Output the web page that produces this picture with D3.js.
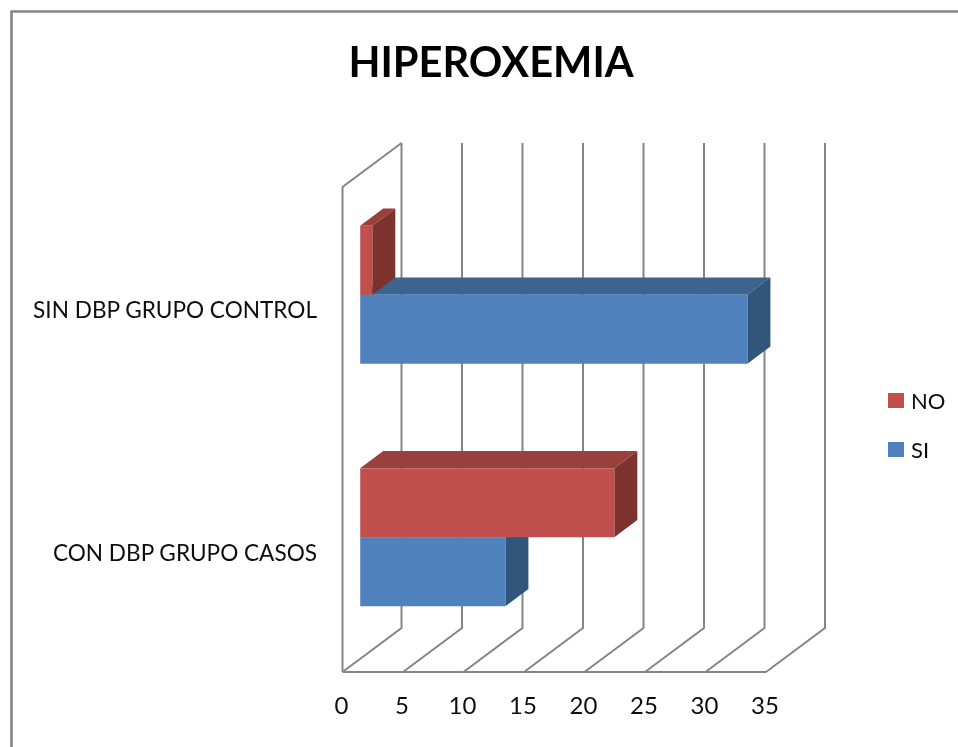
<!DOCTYPE html>
<html><head><meta charset="utf-8">
<script src="https://cdn.jsdelivr.net/npm/d3@7"></script>
<style>html,body{margin:0;padding:0;background:#fff;overflow:hidden}svg{display:block}text{font-family:Lato,"Open Sans",sans-serif;fill:#111}</style>
</head><body><div id="c"></div>
<script>
const title = "HIPEROXEMIA";
const categories = ["SIN DBP GRUPO CONTROL", "CON DBP GRUPO CASOS"];
const seriesNames = ["SI", "NO"];
const siValues = [32, 12];
const noValues = [1, 21];
const tickValues = [0, 5, 10, 15, 20, 25, 30, 35];
const legendOrder = ["NO", "SI"];

const W = 958, H = 747;
const svg = d3.select("#c").append("svg").attr("width", W).attr("height", H);
const blur = svg.append("defs").append("filter").attr("id","soft");
blur.append("feGaussianBlur").attr("stdDeviation",0.6);
const blurText = svg.select("defs").append("filter").attr("id","softText");
blurText.append("feGaussianBlur").attr("stdDeviation",0.35);

// frame
svg.append("path").attr("d",`M11.5,${H}V11.5H${W}`).attr("fill","none").attr("stroke","#858585").attr("stroke-width",2.6).attr("filter","url(#soft)");

const x = d3.scaleLinear().domain([0,35]).range([342.5,766]);
const y = d3.scaleBand().domain(categories).range([187,672]);
const sub = d3.scaleBand().domain(["NO","SI"]).range([0,138]);
const BACK = {dx:59, dy:-44};
const proj = (v, py, d) => [x(v)+BACK.dx*d, py+BACK.dy*d];
const line = d3.line();

const wall = svg.append("g").attr("fill","none").attr("stroke","#858585").attr("stroke-width",2).attr("filter","url(#soft)");
const yTop = y.range()[0], yBot = y.range()[1];
// floor front edge, left wall
wall.append("path").attr("d", line([proj(0,yBot,0),proj(35,yBot,0)]));
wall.append("path").attr("d", line([proj(0,yBot,0),proj(0,yTop,0),proj(0,yTop,1)]));
tickValues.forEach(t=>{
  wall.append("path").attr("d", line([proj(t,yBot,0),proj(t,yBot,1),proj(t,yTop,1)]));
});

const groupOffset = (y.bandwidth()-138)/2;
const d0 = 0.30, d1 = 0.69;
const colors = {
  SI:{front:"#4f81bd", top:"#3c638f", side:"#31547b"},
  NO:{front:"#c0504d", top:"#993f3c", side:"#7d312f"}
};
const values = {SI:siValues, NO:noValues};
const bars = svg.append("g").attr("filter","url(#soft)");
categories.forEach((cat,i)=>{
  seriesNames.forEach(s=>{
    const v = values[s][i], c = colors[s];
    const yT = y(cat)+groupOffset+sub(s)-0.4, yB = yT+sub.bandwidth();
    const a = proj(0,yT,d0), b = proj(v,yT,d0), e = proj(v,yB,d0), f = proj(0,yB,d0);
    const bT = proj(v,yT,d1), bB = proj(v,yB,d1), aT = proj(0,yT,d1);
    bars.append("path").attr("d",line([a,aT,bT,b])+"Z").attr("fill",c.top);
    bars.append("path").attr("d",line([b,bT,bB,e])+"Z").attr("fill",c.side);
    bars.append("path").attr("d",line([a,b,e,f])+"Z").attr("fill",c.front);
  });
});

const texts = svg.append("g").attr("filter","url(#softText)");
// tick labels
texts.append("g").selectAll("text").data(tickValues).join("text")
  .attr("x",d=>x(d)-1).attr("y",713.5).attr("text-anchor","middle").attr("font-size",24).text(d=>d);
// category labels
texts.append("g").selectAll("text").data(categories).join("text")
  .attr("x",317).attr("y",d=>y(d)+y.bandwidth()/2+9.8).attr("text-anchor","end").attr("font-size",22.6).text(d=>d);
// title
texts.append("text").attr("x",491).attr("y",77).attr("text-anchor","middle").attr("font-size",41.6).attr("font-weight",700).style("fill","#000").text(title);
// legend
const ly = d3.scalePoint().domain(legendOrder).range([400.5,449.5]);
const lg = svg.append("g").selectAll("g").data(legendOrder).join("g").attr("transform",d=>`translate(888,${ly(d)})`);
lg.append("rect").attr("x",0).attr("y",-7.5).attr("width",16).attr("height",15).attr("fill",d=>colors[d].front);
lg.append("text").attr("x",23).attr("y",8).attr("font-size",22).attr("filter","url(#softText)").text(d=>d);
</script></body></html>
